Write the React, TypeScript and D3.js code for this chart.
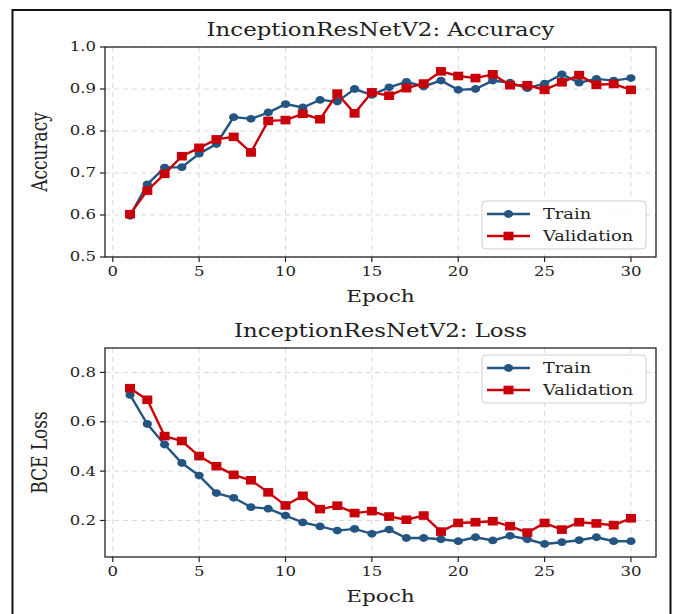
import React from "react";
import * as d3 from "d3";

const epochs = d3.range(1, 31);
const accTrain = [0.598, 0.673, 0.713, 0.714, 0.746, 0.769, 0.833, 0.829, 0.844, 0.864, 0.856, 0.874, 0.870, 0.900, 0.886, 0.904, 0.917, 0.906, 0.920, 0.898, 0.900, 0.920, 0.915, 0.902, 0.913, 0.935, 0.915, 0.924, 0.920, 0.926];
const accVal = [0.602, 0.658, 0.698, 0.740, 0.760, 0.780, 0.786, 0.749, 0.824, 0.826, 0.841, 0.828, 0.889, 0.842, 0.892, 0.884, 0.902, 0.913, 0.942, 0.931, 0.926, 0.935, 0.909, 0.909, 0.898, 0.916, 0.933, 0.910, 0.912, 0.898];
const lossTrain = [0.709, 0.591, 0.508, 0.433, 0.382, 0.311, 0.292, 0.254, 0.248, 0.220, 0.192, 0.176, 0.159, 0.166, 0.146, 0.163, 0.129, 0.129, 0.124, 0.116, 0.132, 0.119, 0.138, 0.124, 0.105, 0.112, 0.120, 0.132, 0.116, 0.116];
const lossVal = [0.736, 0.689, 0.542, 0.522, 0.461, 0.420, 0.385, 0.363, 0.314, 0.261, 0.300, 0.246, 0.260, 0.230, 0.238, 0.216, 0.203, 0.220, 0.155, 0.190, 0.193, 0.197, 0.177, 0.151, 0.190, 0.163, 0.193, 0.188, 0.181, 0.209];
const xTicks = [0, 5, 10, 15, 20, 25, 30];
const accTicks = [0.5, 0.6, 0.7, 0.8, 0.9, 1.0];
const lossTicks = [0.2, 0.4, 0.6, 0.8];
const seriesNames = ["Train", "Validation"];

const BLUE = "#235482";
const RED = "#c8000a";
const SX = 1.27;
const FONT = "'DejaVu Serif', serif";

function T({ x, y, size, anchor = "middle", rotate = false, children }: any) {
  const tr = rotate
    ? `translate(${x},${y}) scale(${SX},1) rotate(-90)`
    : `translate(${x},${y}) scale(${SX},1)`;
  return (
    <text transform={tr} fontSize={size} fontFamily={FONT} textAnchor={anchor} dominantBaseline="central" fill="#222">
      {children}
    </text>
  );
}

function Marker({ kind, x, y, color }: any) {
  if (kind === "circle") return <ellipse cx={x} cy={y} rx={4.6} ry={3.9} fill={color} />;
  return <rect x={x - 5} y={y - 4.3} width={10} height={8.6} fill={color} />;
}

function Panel({ top, bottom, yDomain, yTicks, yFmt, title, ylabel, train, val, legendTop }: any) {
  const left = 105, right = 656;
  const x = d3.scaleLinear().domain([-0.45, 31.45]).range([left, right]);
  const y = d3.scaleLinear().domain(yDomain).range([bottom, top]);
  const line = d3.line<number>().x((_, i) => x(epochs[i])).y((d) => y(d));
  const series = [
    { name: seriesNames[0], data: train, color: BLUE, kind: "circle" },
    { name: seriesNames[1], data: val, color: RED, kind: "square" },
  ];
  const lx = 482, lw = 164, lh = 48;
  return (
    <g>
      {/* grid */}
      {xTicks.map((t) => (
        <line key={"gx" + t} x1={x(t)} x2={x(t)} y1={top} y2={bottom} stroke="#d9d9d9" strokeWidth={1} strokeDasharray="5,4" />
      ))}
      {yTicks.map((t: number) => (
        <line key={"gy" + t} x1={left} x2={right} y1={y(t)} y2={y(t)} stroke="#d9d9d9" strokeWidth={1} strokeDasharray="5,4" />
      ))}
      {/* series */}
      {series.map((s) => (
        <g key={s.name}>
          <path d={line(s.data) || ""} fill="none" stroke={s.color} strokeWidth={2.4} />
          {s.data.map((d: number, i: number) => (
            <Marker key={i} kind={s.kind} x={x(epochs[i])} y={y(d)} color={s.color} />
          ))}
        </g>
      ))}
      {/* frame */}
      <rect x={left} y={top} width={right - left} height={bottom - top} fill="none" stroke="#222" strokeWidth={1.3} />
      {/* ticks */}
      {xTicks.map((t) => (
        <g key={"tx" + t}>
          <line x1={x(t)} x2={x(t)} y1={bottom} y2={bottom + 5} stroke="#222" strokeWidth={1.2} />
          <T x={x(t)} y={bottom + 15} size={13}>{String(t)}</T>
        </g>
      ))}
      {yTicks.map((t: number) => (
        <g key={"ty" + t}>
          <line x1={left - 5} x2={left} y1={y(t)} y2={y(t)} stroke="#222" strokeWidth={1.2} />
          <T x={left - 9} y={y(t)} size={13} anchor="end">{yFmt(t)}</T>
        </g>
      ))}
      <T x={(left + right) / 2} y={bottom + 39} size={17}>Epoch</T>
      <T x={40} y={(top + bottom) / 2} size={17} rotate>{ylabel}</T>
      <T x={(left + right) / 2} y={top - 17} size={18}>{title}</T>
      {/* legend */}
      <rect x={lx} y={legendTop} width={lw} height={lh} rx={4} fill="white" fillOpacity={0.85} stroke="#cfcfcf" strokeWidth={1} />
      {series.map((s, i) => {
        const cy = legendTop + 13 + i * 22;
        return (
          <g key={"lg" + s.name}>
            <line x1={lx + 5} x2={lx + 48} y1={cy} y2={cy} stroke={s.color} strokeWidth={2.4} />
            <Marker kind={s.kind} x={lx + 26.5} y={cy} color={s.color} />
            <T x={lx + 61} y={cy} size={14} anchor="start">{s.name}</T>
          </g>
        );
      })}
    </g>
  );
}

export default function App() {
  return (
    <svg width={677} height={614} style={{ position: "absolute", left: 0, top: 0, background: "white" }}>
      <rect x={0} y={0} width={677} height={614} fill="white" />
      <rect x={12.5} y={10} width={658} height={620} fill="none" stroke="#111" strokeWidth={2} />
      <Panel top={47} bottom={257} yDomain={[0.5, 1.0]} yTicks={accTicks} yFmt={(v: number) => v.toFixed(1)}
        title="InceptionResNetV2: Accuracy" ylabel="Accuracy" train={accTrain} val={accVal} legendTop={201} />
      <Panel top={348} bottom={557} yDomain={[0.052, 0.899]} yTicks={lossTicks} yFmt={(v: number) => v.toFixed(1)}
        title="InceptionResNetV2: Loss" ylabel="BCE Loss" train={lossTrain} val={lossVal} legendTop={355} />
    </svg>
  );
}
